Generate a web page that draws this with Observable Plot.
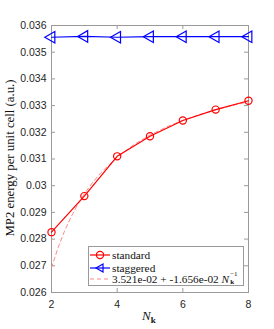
<!DOCTYPE html>
<html><head><meta charset="utf-8">
<script src="https://cdn.jsdelivr.net/npm/d3@7"></script>
<script src="https://cdn.jsdelivr.net/npm/@observablehq/plot@0.6"></script>
<style>
body{margin:0;background:#fff;}
#wrap{position:relative;width:274px;height:329px;overflow:hidden;}
#legend{position:absolute;left:88px;top:246px;width:156px;height:40px;border:1px solid #9a9a9a;background:#fff;
  font-family:"Liberation Serif","DejaVu Serif",serif;font-size:11.3px;color:#111;box-sizing:border-box;}
.row{position:absolute;left:0;height:13px;display:flex;align-items:center;white-space:nowrap;}
.row svg{margin-right:1px;}
#xlab{position:absolute;left:142px;top:308px;font-family:"Liberation Serif","DejaVu Serif",serif;font-size:13px;color:#111;}
#ylab{position:absolute;left:-120px;top:150px;width:260px;height:16px;line-height:16px;text-align:center;transform:rotate(-90deg);
  font-family:"Liberation Serif","DejaVu Serif",serif;font-size:12.8px;color:#111;white-space:nowrap;}
.ss{display:inline-flex;flex-direction:column;vertical-align:middle;font-size:7px;line-height:7.5px;margin-left:1px;}
</style></head><body><div id="wrap"></div>
<script>
const nk = [2, 3, 4, 5, 6, 7, 8];
const standard = [0.02826, 0.02961, 0.03110, 0.03185, 0.03244, 0.03285, 0.03318];
const staggered = [0.03556, 0.03559, 0.03556, 0.03558, 0.03558, 0.03558, 0.03558];
const fitN = [2, 2.2, 2.4, 2.6, 2.8, 3, 3.25, 3.5, 4, 4.5, 5, 5.5, 6, 6.5, 7, 7.5, 8];
const fitE = [0.02693, 0.02768, 0.02831, 0.02884, 0.02930, 0.02969, 0.03012, 0.03048, 0.03107, 0.03153, 0.03190, 0.03220, 0.03245, 0.03266, 0.03284, 0.03300, 0.03314];
const xTicks = [2, 4, 6, 8];
const yTicks = [0.026, 0.027, 0.028, 0.029, 0.03, 0.031, 0.032, 0.033, 0.034, 0.035, 0.036];
const yTickLabels = ["0.026", "0.027", "0.028", "0.029", "0.03", "0.031", "0.032", "0.033", "0.034", "0.035", "0.036"];
const seriesNames = ["standard", "staggered"];
const yLabel = "MP2 energy per unit cell (a.u.)";

const std = nk.map((n, i) => ({n, e: standard[i]}));
const stg = nk.map((n, i) => ({n, e: staggered[i]}));
const fit = fitN.map((n, i) => ({n, e: fitE[i]}));

const axisColor = "#9a9a9a";

const plot = Plot.plot({
  width: 274, height: 329,
  marginLeft: 51, marginRight: 26, marginTop: 25, marginBottom: 37,
  style: {fontFamily: '"Liberation Sans", Arial, sans-serif', fontSize: "10.5px", color: "#262626", background: "#fff"},
  x: {domain: [2, 8]},
  y: {domain: [0.026, 0.036]},
  marks: [
    Plot.frame({stroke: axisColor}),
    Plot.tickX(xTicks, {x: d => d, stroke: axisColor, insetTop: 263}),
    Plot.tickX(xTicks, {x: d => d, stroke: axisColor, insetBottom: 263}),
    Plot.tickY(yTicks, {y: d => d, stroke: axisColor, insetRight: 193}),
    Plot.tickY(yTicks, {y: d => d, stroke: axisColor, insetLeft: 193}),
    Plot.axisX({ticks: xTicks, tickSize: 0, tickPadding: 8, label: null, tickFormat: d => String(d), fill: "#262626"}),
    Plot.axisY({ticks: yTicks, tickSize: 0, tickPadding: 5, label: null, tickFormat: d => yTickLabels[yTicks.indexOf(d)], fill: "#262626"}),
    Plot.line(fit, {x: "n", y: "e", stroke: "#ff8a8a", strokeWidth: 1, strokeDasharray: "4,3"}),
    Plot.line(std, {x: "n", y: "e", stroke: "#ff0000", strokeWidth: 1.2}),
    Plot.dot(std, {x: "n", y: "e", stroke: "#ff0000", fill: "none", r: 3.6, strokeWidth: 1.2}),
    Plot.line(stg, {x: "n", y: "e", stroke: "#0000ff", strokeWidth: 1.2}),
    Plot.dot(stg, {x: "n", y: "e", stroke: "#0000ff", fill: "none", symbol: "triangle", rotate: -90, r: 4.3, strokeWidth: 1.2})
  ]
});
const wrap = document.getElementById("wrap");
wrap.appendChild(plot);

const ylab = document.createElement("div");
ylab.id = "ylab";
ylab.textContent = yLabel;
wrap.appendChild(ylab);

const legend = document.createElement("div");
legend.id = "legend";
const sw = (color, marker) => `<svg width="22" height="12" viewBox="0 0 22 12"><line x1="1" x2="21" y1="6" y2="6" stroke="${color}" stroke-width="1.2" ${marker === "dash" ? 'stroke-dasharray="4,3"' : ""}/>${marker === "circle" ? `<circle cx="11" cy="6" r="3.6" fill="none" stroke="${color}" stroke-width="1.2"/>` : ""}${marker === "tri" ? `<path d="M7,6L14,2L14,10Z" fill="none" stroke="${color}" stroke-width="1.2"/>` : ""}</svg>`;
legend.innerHTML =
  `<div class="row" style="top:1px">${sw("#ff0000", "circle")}${seriesNames[0]}</div>` +
  `<div class="row" style="top:14px">${sw("#0000ff", "tri")}${seriesNames[1]}</div>` +
  `<div class="row" style="top:25px">${sw("#ff8a8a", "dash")}3.521e-02 + -1.656e-02&nbsp;<i>N</i><span class="ss"><span>&minus;1</span><b>k</b></span></div>`;
wrap.appendChild(legend);

const xlab = document.createElement("div");
xlab.id = "xlab";
xlab.innerHTML = `<i>N</i><b style="font-size:9px;position:relative;top:3px;">k</b>`;
wrap.appendChild(xlab);
</script></body></html>
